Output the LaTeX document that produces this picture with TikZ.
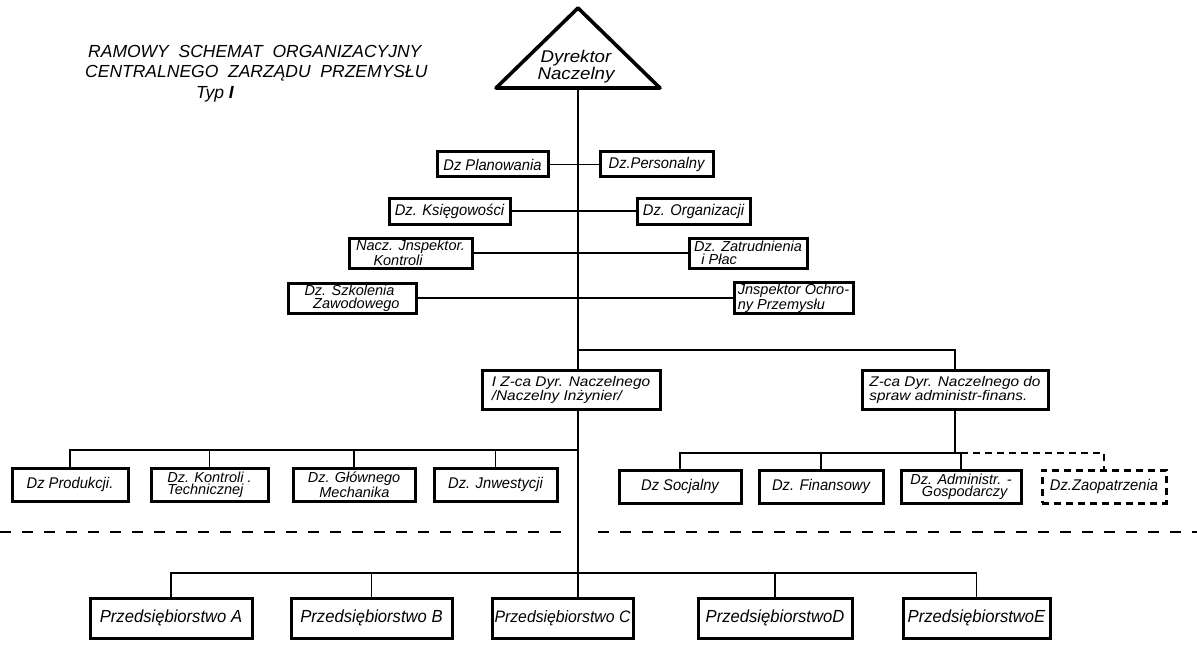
\documentclass[tikz,border=0pt]{standalone}
\usepackage{fontspec}
\setmainfont{Liberation Sans}
\newfontfamily\depfont{Liberation Sans}[FakeStretch=1.1]
\newfontfamily\narrowfont{Liberation Sans}[FakeStretch=0.95]
\usetikzlibrary{backgrounds}
\begin{document}
\begin{tikzpicture}[x=1pt,y=-1pt,
  box/.style={draw, line width=3pt, fill=white, rectangle, inner sep=1pt, font=\narrowfont\itshape\fontsize{15.5}{15.5}\selectfont},
  two/.style={box, font=\itshape\fontsize{14.5}{12.5}\selectfont, align=left},
  dep/.style={box, font=\depfont\itshape\fontsize{14}{13}\selectfont, align=left},
  ent/.style={box, font=\narrowfont\itshape\fontsize{17.5}{17.5}\selectfont, minimum height=40pt},
  dbox/.style={box, dash pattern=on 7pt off 5pt},
  conn/.style={line width=1.5pt},
  bus/.style={line width=1.9pt},
  trunk/.style={line width=2.4pt},
  divider/.style={line width=2pt, dash pattern=on 11pt off 11pt},
  ttl/.style={anchor=base west, font=\itshape\fontsize{17.5}{17.5}\selectfont, inner sep=0pt},
]
\useasboundingbox (0,0) rectangle (1197,658);

% title
\node[ttl] (t1) at (88,58) {RAMOWY \ SCHEMAT \ ORGANIZACYJNY};
\node[ttl] (t2) at (85,78) {CENTRALNEGO \ ZARZĄDU \ PRZEMYSŁU};
\node[ttl] (t3) at (196,99) {Typ \textbf{I}};

% director triangle
\coordinate (apex) at (578,8);
\coordinate (bl) at (496,88);
\coordinate (br) at (660,88);
\coordinate (dyrb) at (578,88);
\draw[line width=3.6pt, line join=round, fill=white] (apex) -- (bl) -- (br) -- cycle;
\node[align=center, font=\depfont\itshape\fontsize{17}{13}\selectfont, inner sep=0pt] (dyr) at (576,67) {Dyrektor\\Naczelny};

% staff departments
\node[box, minimum width=111pt, minimum height=25pt] (plan) at (492.5,164.5) {Dz Planowania};
\node[box, minimum width=113pt, minimum height=25pt] (pers) at (656.5,164.5) {Dz.Personalny};
\node[box, minimum width=121pt, minimum height=26pt] (ksieg) at (449.5,211) {Dz. Księgowości};
\node[box, minimum width=113pt, minimum height=26pt] (org) at (693.5,211) {Dz. Organizacji};
\node[two, minimum width=123pt, minimum height=30pt] (nacz) at (410.5,253) {Nacz. Jnspektor.\\\hspace*{1.2em}Kontroli};
\node[two, minimum width=118pt, minimum height=30pt] (zatr) at (748,253) {Dz. Zatrudnienia\\\hspace*{0.5em}i Płac};
\node[two, minimum width=128pt, minimum height=30pt] (szk) at (352,298) {Dz. Szkolenia\\\hspace*{0.6em}Zawodowego};
\node[two, minimum width=119pt, minimum height=30pt] (insp) at (793.5,298) {Jnspektor Ochro-\\ny Przemysłu};

% deputies
\node[dep, minimum width=178pt, minimum height=39pt] (zca1) at (571,389.5) {I Z-ca Dyr. Naczelnego\\/Naczelny Inżynier/};
\node[dep, minimum width=186pt, minimum height=39pt] (zca2) at (955,389.5) {Z-ca Dyr. Naczelnego do\\spraw administr-finans.};

% technical departments
\node[box, minimum width=116pt, minimum height=33pt] (prod) at (70,484.5) {Dz Produkcji.};
\node[two, minimum width=117pt, minimum height=33pt] (kontr) at (209.5,484.5) {Dz. Kontroli .\\Technicznej};
\node[two, minimum width=122pt, minimum height=33pt] (glow) at (354,484.5) {Dz. Głównego\\\hspace*{0.8em}Mechanika};
\node[box, minimum width=123pt, minimum height=33pt] (inw) at (495.5,484.5) {Dz. Jnwestycji};

% administrative departments
\node[box, minimum width=122pt, minimum height=33pt] (soc) at (680,486.5) {Dz Socjalny};
\node[box, minimum width=124pt, minimum height=33pt] (fin) at (821,486.5) {Dz. Finansowy};
\node[two, minimum width=120pt, minimum height=33pt] (adm) at (961,486.5) {Dz. Administr. -\\\hspace*{0.8em}Gospodarczy};
\node[dbox, minimum width=124pt, minimum height=33pt] (zaop) at (1104,486.5) {Dz.Zaopatrzenia};

% enterprises
\node[ent, minimum width=162pt] (pA) at (171,618) {Przedsiębiorstwo A};
\node[ent, minimum width=161pt] (pB) at (371.5,618) {Przedsiębiorstwo B};
\node[ent, minimum width=141pt, font=\narrowfont\itshape\fontsize{16.6}{16.6}\selectfont] (pC) at (562.5,618) {Przedsiębiorstwo C};
\node[ent, minimum width=154pt] (pD) at (775,618) {PrzedsiębiorstwoD};
\node[ent, minimum width=147pt] (pE) at (976.5,618) {PrzedsiębiorstwoE};

% helper coordinates
\coordinate (db) at (578,350);
\coordinate (lb) at (578,450);
\coordinate (rb) at (680,453);
\coordinate (pb) at (578,573);
\coordinate (dl0) at (0,532);
\coordinate (dl1) at (562,532);
\coordinate (dr0) at (598,532);
\coordinate (dr1) at (1197,532);

\begin{scope}[on background layer]
  % trunk
  \draw[trunk] (dyrb) -- (dyrb |- pC.north);
  % staff links
  \draw[conn] (plan.east) -- (pers.west);
  \draw[conn] (ksieg.east) -- (org.west);
  \draw[conn] (nacz.east) -- (zatr.west);
  \draw[conn] (szk.east) -- (insp.west);
  % deputies
  \draw[bus] (db) -| (zca2.north);
  % technical
  \draw[bus] (lb) -| (prod.north);
  \draw[bus] (kontr.north) -- (kontr.north |- lb);
  \draw[bus] (glow.north) -- (glow.north |- lb);
  \draw[bus] (inw.north) -- (inw.north |- lb);
  % administrative
  \draw[bus] (zca2.south) -- (zca2.south |- rb);
  \draw[bus] (soc.north) -- (rb) -- (adm.north |- rb) -- (adm.north);
  \draw[bus] (fin.north) -- (fin.north |- rb);
  \draw[bus, dash pattern=on 7pt off 5pt] (adm.north |- rb) -| (zaop.north);
  % enterprises
  \draw[bus] (pA.north) |- (pb) -| (pE.north);
  \draw[bus] (pB.north) -- (pB.north |- pb);
  \draw[bus] (pD.north) -- (pD.north |- pb);
  % dividers
  \draw[divider] (dl0) -- (dl1);
  \draw[divider] (dr0) -- (dr1);
\end{scope}
\end{tikzpicture}
\end{document}
